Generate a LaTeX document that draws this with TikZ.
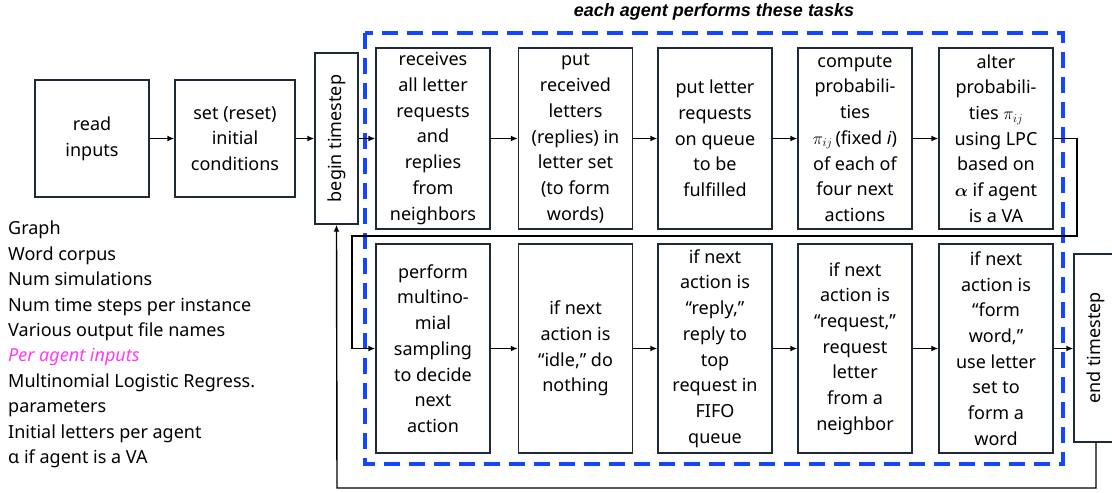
\documentclass[tikz,border=0pt]{standalone}
\usepackage{amsmath}
\usepackage{fontspec}
\setmainfont{Noto Sans}
\newfontfamily\titlefont{Liberation Sans}
\usetikzlibrary{arrows.meta}

\begin{document}
\begin{tikzpicture}[x=1pt, y=-1pt,
    task/.style={draw=boxColour, line width=1.4pt, align=center, inner sep=0pt,
        font=\fontsize{18}{25.7}\selectfont},
    toprow/.style={task, minimum width=114pt, minimum height=181pt},
    botrow/.style={task, minimum width=114pt, minimum height=209pt},
    flow/.style={line width=1.4pt, -{Latex[length=7pt,width=6pt]}}]
    % Define colours
    \definecolor{boxColour}{HTML}{1E2A36}
    \definecolor{agentColour}{HTML}{1446FF}
    \definecolor{inputColour}{HTML}{FF3CF0}

    % Fix page size
    \useasboundingbox (0,0) rectangle (1112,493);

    % Start boxes
    \node[task, minimum width=114pt, minimum height=117pt] (read) at (92,138.5) {read\\inputs};
    \node[task, minimum width=120pt, minimum height=117pt] (reset) at (235,138.5) {set (reset)\\initial\\conditions};
    \node[task, minimum width=43pt, minimum height=171pt] (beginT) at (336.5,138.5) {\rotatebox{90}{begin timestep}};
    \node[task, minimum width=44pt, minimum height=188pt] (endT) at (1096,348) {\rotatebox{90}{end timestep}};

    % Agent border and title
    \draw[agentColour, line width=4pt, dash pattern=on 16pt off 9pt] (365,33) rectangle (1063,464);
    \node[font=\titlefont\fontsize{18}{20}\selectfont\bfseries\itshape] (title) at (714,12) {each agent performs these tasks};

    % Top row of tasks
    \node[toprow] (r1) at (433,138.5) {receives\\all letter\\requests\\and\\replies\\from\\neighbors};
    \node[toprow] (r2) at (575.5,138.5) {put\\received\\letters\\(replies) in\\letter set\\(to form\\words)};
    \node[toprow] (r3) at (715,138.5) {put letter\\requests\\on queue\\to be\\fulfilled};
    \node[toprow] (r4) at (855,138.5) {compute\\probabili-\\ties\\$\pi_{ij}$\,(fixed \textit{i})\\of each of\\four next\\actions};
    \node[toprow] (r5) at (996,138.5) {alter\\probabili-\\ties $\pi_{ij}$\\using LPC\\based on\\$\boldsymbol{\alpha}$ if agent\\is a VA};

    % Bottom row of tasks
    \node[botrow] (p1) at (433,348.5) {perform\\multino-\\mial\\sampling\\to decide\\next\\action};
    \node[botrow] (p2) at (575.5,348.5) {if next\\action is\\“idle,” do\\nothing};
    \node[botrow] (p3) at (715,348.5) {if next\\action is\\“reply,”\\reply to\\top\\request in\\FIFO\\queue};
    \node[botrow] (p4) at (855,348.5) {if next\\action is\\“request,”\\request\\letter\\from a\\neighbor};
    \node[botrow] (p5) at (996,348.5) {if next\\action is\\“form\\word,”\\use letter\\set to\\form a\\word};

    % Input list
    \node[anchor=north west, align=left, inner sep=0pt, font=\fontsize{18}{25.4}\selectfont] (inputs) at (8,221)
        {Graph\\Word corpus\\Num simulations\\Num time steps per instance\\Various output file names\\
         \textcolor{inputColour}{\itshape Per agent inputs}\\Multinomial Logistic Regress.\\parameters\\
         Initial letters per agent\\α if agent is a VA};

    % Loop points
    \coordinate (loopR) at (1077,236);
    \coordinate (loopL) at (352,236);
    \coordinate (loopB) at (337,488);

    % Draw connectors
    \draw[flow] (read) -- (reset);
    \draw[flow] (reset) -- (beginT);
    \draw[flow] (beginT.east) -- (r1.west);
    \foreach \a/\b in {r1/r2, r2/r3, r3/r4, r4/r5, p1/p2, p2/p3, p3/p4, p4/p5}
        \draw[flow] (\a) -- (\b);
    \draw[flow] (r5.east) -| (loopR) -- (loopL) |- (p1.west);
    \draw[flow] (p5.east) -- (endT.west |- p5.east);
    \draw[flow] (endT.south) |- (loopB) -- (beginT.south);
\end{tikzpicture}
\end{document}
